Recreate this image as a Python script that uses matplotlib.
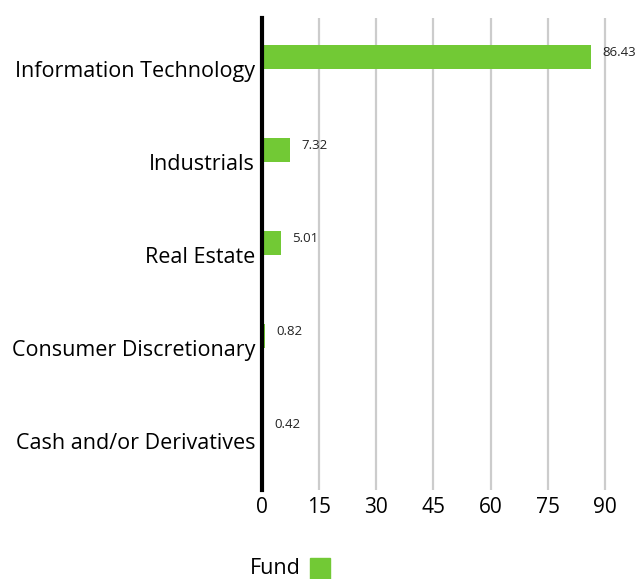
import matplotlib
matplotlib.use("Agg")
import matplotlib.pyplot as plt
import matplotlib.transforms as mtransforms
from matplotlib.patches import Rectangle

sectors = ["Information Technology", "Industrials", "Real Estate",
           "Consumer Discretionary", "Cash and/or Derivatives"]
fund = [86.43, 7.32, 5.01, 0.82, 0.42]
xticks = [0, 15, 30, 45, 60, 75, 90]
green = "#72c935"

plt.rcParams["font.family"] = ["Open Sans", "DejaVu Sans"]

fig = plt.figure(figsize=(6.43, 5.79), dpi=100)
ax = fig.add_axes([262 / 643, 1 - 490 / 579, (630 - 262) / 643, (490 - 18) / 579])

pos = list(range(len(sectors)))
ax.barh(pos, fund, height=0.26, color=green, zorder=3)

for p, v in zip(pos, fund):
    ax.annotate(f"{v:.2f}", (v, p), xytext=(8, 3), textcoords="offset points",
                ha="left", va="center", fontsize=9.5, color="#222222")

ax.set_xlim(0, 96.6)
ax.set_ylim(4.656, -0.42)
ax.set_xticks(xticks)
ax.set_xticklabels([str(t) for t in xticks], fontsize=15)
ax.set_yticks(pos)
ax.set_yticklabels(sectors, fontsize=15.5)
ax.tick_params(axis="both", length=0)
ax.tick_params(axis="x", pad=5)
ax.tick_params(axis="y", pad=5)

offset = mtransforms.ScaledTranslation(0, -12 / 100, fig.dpi_scale_trans)
for lab in ax.get_yticklabels():
    lab.set_transform(lab.get_transform() + offset)

ax.grid(axis="x", color="#cccccc", linewidth=1.6, zorder=0)
ax.grid(axis="y", visible=False)
for s in ["top", "right", "bottom"]:
    ax.spines[s].set_visible(False)
ax.spines["left"].set_linewidth(3)
ax.spines["left"].set_color("black")
ax.spines["left"].set_zorder(4)

fig.text(250 / 643, 1 - 569 / 579, "Fund", fontsize=15.5, ha="left", va="center")
fig.patches.append(Rectangle((310 / 643, 0), 20 / 643, 21 / 579,
                             transform=fig.transFigure, color=green))

fig.savefig("out.png", dpi=100)
